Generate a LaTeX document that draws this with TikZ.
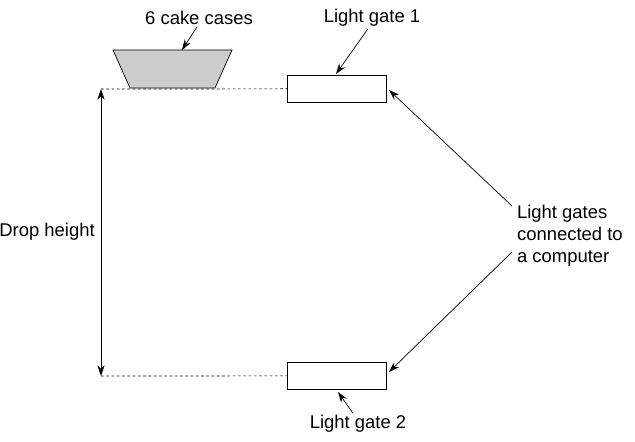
\documentclass[tikz,border=0pt]{standalone}
\usepackage{fontspec}
\setmainfont{Liberation Sans}
\usetikzlibrary{arrows.meta}
\tikzset{
  gate/.style={draw, minimum width=1.98cm, minimum height=0.54cm, inner sep=0pt},
  lbl/.style={font=\fontsize{10.5}{12.5}\selectfont, inner sep=1pt},
  pointer/.style={draw, -{Stealth[length=6pt,width=4pt]}},
  level/.style={draw, dash pattern=on 1.5pt off 1.5pt}
}
\begin{document}
\begin{tikzpicture}[x=0.02cm,y=-0.02cm]
	\useasboundingbox (0,0) rectangle (635,442);
	%% cake cases
	\draw[fill=black!20] (113,50) -- (232,50) -- (215,88) -- (130,88) -- cycle;
	\coordinate (cases) at (182,50);
	\node[lbl] (casesL) at (199,18) {6 cake cases};
	%% light gates
	\node[gate, anchor=north west] (G1) at (287,75) {};
	\node[gate, anchor=north west] (G2) at (287,362) {};
	\node[lbl] (G1L) at (372,18) {Light gate 1};
	\node[lbl] (G2L) at (358,424) {Light gate 2};
	%% computer label
	\node[lbl, align=left, anchor=west] (PC) at (515,236) {Light gates\\connected to\\a computer};
	%% levels
	\coordinate (top) at (101,89);
	\coordinate (bot) at (101,376);
	\path[level] (top) -- (G1.west);
	\path[level] (bot) -- (G2.west);
	\draw[{Stealth[length=6pt,width=4pt]}-{Stealth[length=6pt,width=4pt]}] (top) -- (bot);
	\node[lbl] (DH) at (47,232) {Drop height};
	%% edges
	\path[pointer] (casesL.south) ++(-2,0) -- (cases);
	\path[pointer] (G1L.south) ++(-4,0) -- (336,74);
	\path[pointer] (G2L.north) ++(-5,0) -- (338,392);
	\path[pointer] (512,206) -- (389,90);
	\path[pointer] (512,252) -- (389,372);
\end{tikzpicture}
\end{document}
